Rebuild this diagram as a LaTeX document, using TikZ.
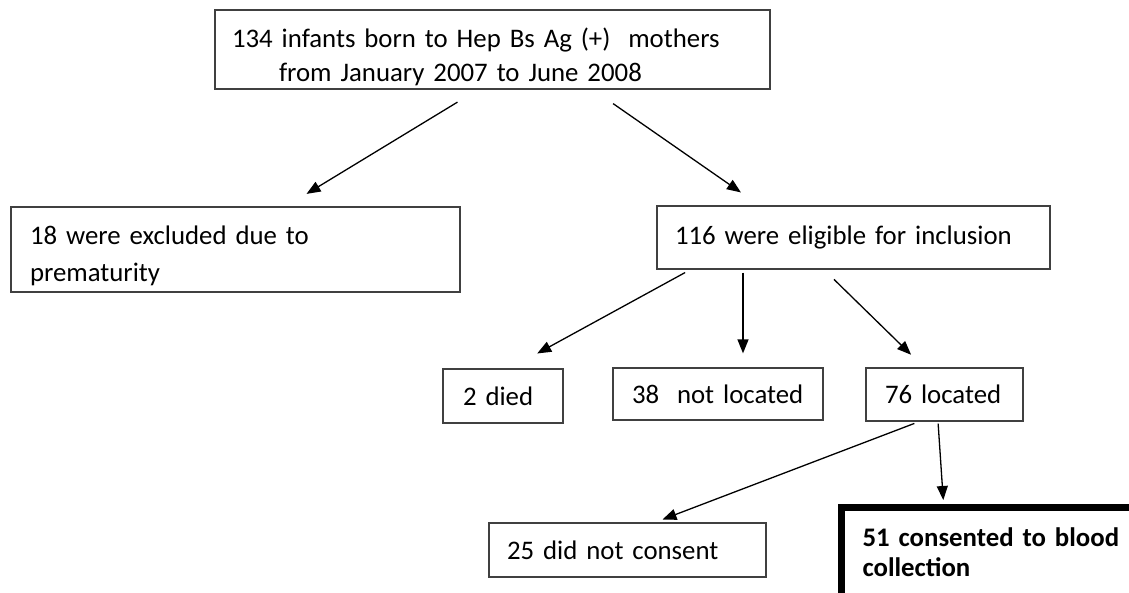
\documentclass[tikz,border=0pt]{standalone}
\usepackage{fontspec}
\setmainfont{Carlito}
\usetikzlibrary{arrows.meta}
\newcommand\fsz{\fontsize{26.8}{33}\selectfont}
\tikzset{
  box/.style={draw=black!75, line width=1.3pt, inner ysep=0pt, align=left, font=\fsz},
  arr/.style={draw=black, line width=1.3pt, -{Triangle[length=14pt,width=11pt]}},
}
\begin{document}
\begin{tikzpicture}[x=1pt,y=-1pt]
\useasboundingbox (0,0) rectangle (1129,592);
\clip (0,0) rectangle (1129,592);
\node[box, inner xsep=17pt, text width=521pt, minimum height=79pt, font=\fontsize{26.8}{34}\selectfont] (top) at (492.5,49.5)
  {\rule{0pt}{35pt}\mbox{134 infants born to Hep Bs Ag (+)\ \ mothers}\\\hspace*{47pt}\mbox{from January 2007 to June 2008}};
\node[box, inner xsep=19pt, text width=411pt, minimum height=85pt, font=\fontsize{26.8}{37}\selectfont] (excl) at (235.5,249.5)
  {\rule{0pt}{32pt}\mbox{18 were excluded due to}\\\mbox{prematurity}};
\node[box, inner xsep=18pt, text width=357pt, minimum height=63pt] (elig) at (853.5,237.5)
  {\mbox{116 were eligible for inclusion}};
\node[box, inner xsep=20pt, text width=80pt, minimum height=54pt] (died) at (503,396)
  {\mbox{2 died}};
\node[box, inner xsep=19pt, text width=172pt, minimum height=52pt] (notloc) at (718,394)
  {\mbox{38\ \ not located}};
\node[box, inner xsep=19pt, text width=119pt, minimum height=53pt] (loc) at (944.5,394.5)
  {\mbox{76 located}};
\node[box, inner xsep=18pt, text width=241pt, minimum height=54pt] (nocons) at (627.5,550)
  {\mbox{25 did not consent}};
\node[box, draw=black, line width=7pt, inner xsep=21.5pt, text width=300pt, minimum height=97pt, anchor=north west, font=\fontsize{26.8}{30}\selectfont\bfseries] (cons) at (837.5,503.5)
  {\mbox{51 consented to blood}\\\mbox{collection}\rule[-7pt]{0pt}{0pt}};
\draw[arr, shorten <=24pt, shorten >=24pt] ([xshift=-14.5pt]top.south) -- ([xshift=50.5pt]excl.north);
\draw[arr, shorten <=24.4pt, shorten >=22.6pt] ([xshift=100.5pt]top.south) -- ([xshift=-94pt]elig.north);
\draw[arr, shorten <=6pt, shorten >=31pt] ([xshift=-163.1pt]elig.south) -- ([xshift=7pt]died.north);
\draw[arr, shorten <=3pt, shorten >=14pt] ([xshift=-110.5pt]elig.south) -- ([xshift=25pt]notloc.north);
\draw[arr, shorten <=14pt, shorten >=18pt] ([xshift=-29.5pt]elig.south) -- ([xshift=-20.5pt]loc.north);
\draw[arr, shorten <=5pt, shorten >=8pt] ([xshift=-25.5pt]loc.south) -- ([xshift=27.5pt]nocons.north);
\draw[arr, shorten <=2pt, shorten >=3.5pt] ([xshift=-6.5pt]loc.south) -- ([xshift=-69pt]cons.north);
\end{tikzpicture}
\end{document}
